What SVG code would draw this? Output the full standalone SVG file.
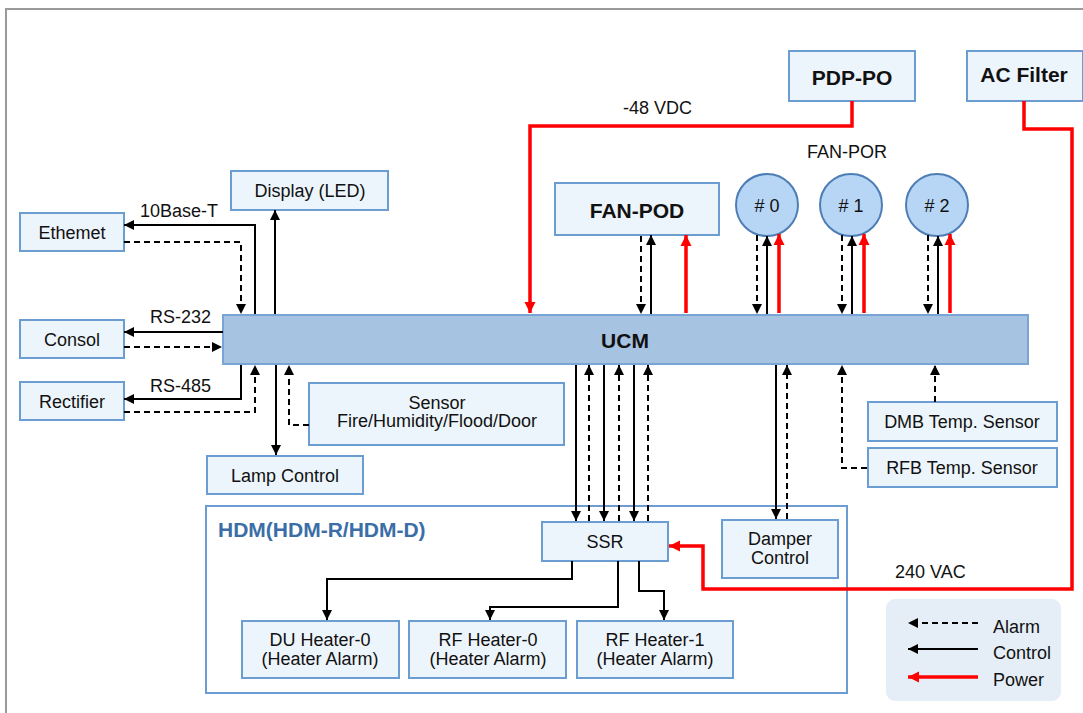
<svg xmlns="http://www.w3.org/2000/svg" width="1083" height="713" viewBox="0 0 1083 713">
  <style>
    .box { fill: #edf5fc; stroke: #6c9dd2; stroke-width: 2; }
    .ucm { fill: #a6c3e1; stroke: #78a5d6; stroke-width: 2; }
    .fan { fill: #b7d6f6; stroke: #4d7db5; stroke-width: 2; }
    .hdm { fill: #ffffff; stroke: #6c9dd2; stroke-width: 2; }
    .t { font-family: "Liberation Sans", Arial, sans-serif; font-size: 18px; fill: #111; }
    .c { text-anchor: middle; }
    .b { font-weight: bold; font-size: 21px; }
    .ctl { fill: none; stroke: #000; stroke-width: 2; marker-end: url(#ah); }
    .alm { fill: none; stroke: #000; stroke-width: 2; stroke-dasharray: 6 4; marker-end: url(#ah); }
    .pwr { fill: none; stroke: #ff0000; stroke-width: 3.5; marker-end: url(#ahr); }
  </style>
  <defs>
    <marker id="ah" viewBox="0 0 10 10" refX="10" refY="5" markerWidth="10" markerHeight="10" markerUnits="userSpaceOnUse" orient="auto">
      <path d="M0,0L10,5L0,10z" fill="#000"/>
    </marker>
    <marker id="ahr" viewBox="0 0 10 10" refX="10" refY="5" markerWidth="11" markerHeight="12" markerUnits="userSpaceOnUse" orient="auto">
      <path d="M0,0L10,5L0,10z" fill="#ff0000"/>
    </marker>
  </defs>

  <!-- outer frame -->
  <path d="M6,713 V9 H1083" fill="none" stroke="#9a9a9a" stroke-width="2"/>

  <!-- HDM enclosure -->
  <g id="hdm">
    <rect class="hdm" x="206" y="506" width="641" height="187"/>
    <text class="t b" x="218" y="537" style="fill:#3b6ea7">HDM(HDM-R/HDM-D)</text>
  </g>

  <g id="ucm">
    <rect class="ucm" x="223" y="315" width="805" height="49"/>
    <text class="t b c" x="625" y="348">UCM</text>
  </g>

  <g id="ethernet"><rect class="box" x="20" y="213" width="104" height="38"/><text class="t c" x="72" y="239">Ethemet</text></g>
  <g id="consol"><rect class="box" x="20" y="320" width="104" height="38"/><text class="t c" x="72" y="346">Consol</text></g>
  <g id="rectifier"><rect class="box" x="20" y="382" width="104" height="38"/><text class="t c" x="72" y="408">Rectifier</text></g>
  <g id="display"><rect class="box" x="231" y="171" width="157" height="39"/><text class="t c" x="310" y="197">Display (LED)</text></g>
  <g id="lamp"><rect class="box" x="207" y="456" width="156" height="38"/><text class="t c" x="285" y="482">Lamp Control</text></g>
  <g id="sensor">
    <rect class="box" x="309" y="383" width="255" height="62"/>
    <text class="t c" x="437" y="409">Sensor</text>
    <text class="t c" x="437" y="427">Fire/Humidity/Flood/Door</text>
  </g>
  <g id="pdp-po"><rect class="box" x="789" y="51" width="126" height="50"/><text class="t b c" x="852" y="85">PDP-PO</text></g>
  <g id="ac-filter"><rect class="box" x="967" y="51" width="116" height="50"/><text class="t b c" x="1024" y="82">AC Filter</text></g>
  <g id="fan-pod"><rect class="box" x="555" y="183" width="164" height="52"/><text class="t b c" x="637" y="218">FAN-POD</text></g>
  <g id="fan-por">
    <text class="t c" x="847" y="158">FAN-POR</text>
    <circle class="fan" cx="767" cy="205" r="31"/><text class="t c" x="767" y="212"># 0</text>
    <circle class="fan" cx="851" cy="205" r="31"/><text class="t c" x="851" y="212"># 1</text>
    <circle class="fan" cx="937" cy="205" r="31"/><text class="t c" x="937" y="212"># 2</text>
  </g>
  <g id="dmb"><rect class="box" x="868" y="402" width="189" height="39"/><text class="t c" x="962" y="428">DMB Temp. Sensor</text></g>
  <g id="rfb"><rect class="box" x="868" y="448" width="189" height="39"/><text class="t c" x="962" y="474">RFB Temp. Sensor</text></g>
  <g id="ssr"><rect class="box" x="542" y="522" width="126" height="39"/><text class="t c" x="605" y="548">SSR</text></g>
  <g id="damper">
    <rect class="box" x="722" y="520" width="116" height="58"/>
    <text class="t c" x="780" y="545">Damper</text>
    <text class="t c" x="780" y="564">Control</text>
  </g>
  <g id="du-heater-0">
    <rect class="box" x="242" y="621" width="157" height="57"/>
    <text class="t c" x="320" y="646">DU Heater-0</text>
    <text class="t c" x="320" y="665">(Heater Alarm)</text>
  </g>
  <g id="rf-heater-0">
    <rect class="box" x="409" y="621" width="157" height="57"/>
    <text class="t c" x="488" y="646">RF Heater-0</text>
    <text class="t c" x="488" y="665">(Heater Alarm)</text>
  </g>
  <g id="rf-heater-1">
    <rect class="box" x="577" y="621" width="156" height="57"/>
    <text class="t c" x="655" y="646">RF Heater-1</text>
    <text class="t c" x="655" y="665">(Heater Alarm)</text>
  </g>

  <g id="connectors">
    <!-- left side -->
    <path class="ctl" d="M255,314 V225 H124"/>
    <path class="alm" d="M124,242 H241 V314"/>
    <path class="ctl" d="M275,314 V210"/>
    <path class="ctl" d="M223,332 H124"/>
    <path class="alm" d="M124,347 H222"/>
    <path class="ctl" d="M241,365 V399 H124"/>
    <path class="alm" d="M124,412 H255 V365"/>
    <path class="ctl" d="M276,365 V455"/>
    <path class="alm" d="M309,425 H289 V365"/>
    <!-- fan pod / fans -->
    <path class="alm" d="M641,236 V314"/>
    <path class="ctl" d="M651,314 V235"/>
    <path class="pwr" d="M686,313 V235"/>
    <path class="alm" d="M757,235 V314"/>
    <path class="ctl" d="M767,314 V236"/>
    <path class="pwr" d="M779,313 V234"/>
    <path class="alm" d="M842,235 V314"/>
    <path class="ctl" d="M852,314 V236"/>
    <path class="pwr" d="M864,313 V234"/>
    <path class="alm" d="M928,235 V314"/>
    <path class="ctl" d="M938,314 V236"/>
    <path class="pwr" d="M950,313 V234"/>
    <!-- power feeds -->
    <path class="pwr" d="M852,101 V126 H530 V313"/>
    <path class="pwr" d="M1024,101 V129 H1072 V589 H703 V546 H669"/>
    <!-- UCM to SSR -->
    <path class="ctl" d="M576,365 V521"/>
    <path class="alm" d="M589,521 V365"/>
    <path class="ctl" d="M604,365 V521"/>
    <path class="alm" d="M619,521 V365"/>
    <path class="ctl" d="M634,365 V521"/>
    <path class="alm" d="M648,521 V365"/>
    <!-- damper -->
    <path class="ctl" d="M776,365 V519"/>
    <path class="alm" d="M787,519 V365"/>
    <!-- temperature sensors -->
    <path class="alm" d="M867,468 H842 V365"/>
    <path class="alm" d="M935,402 V365"/>
    <!-- SSR to heaters -->
    <path class="ctl" d="M572,561 V579 H327 V620"/>
    <path class="ctl" d="M618,561 V607 H490 V620"/>
    <path class="ctl" d="M639,561 V591 H664 V620"/>
  </g>

  <g id="labels">
    <text class="t" x="140" y="217">10Base-T</text>
    <text class="t" x="150" y="323">RS-232</text>
    <text class="t" x="150" y="392">RS-485</text>
    <text class="t" x="623" y="114">-48 VDC</text>
    <text class="t" x="895" y="578">240 VAC</text>
  </g>

  <g id="legend">
    <rect x="886" y="599" width="175" height="102" rx="9" fill="#e5eef7"/>
    <path class="alm" d="M978,623 H908"/>
    <path class="ctl" d="M978,649 H908"/>
    <path class="pwr" d="M978,677 H908"/>
    <text class="t" x="993" y="633">Alarm</text>
    <text class="t" x="993" y="659">Control</text>
    <text class="t" x="993" y="686">Power</text>
  </g>
</svg>
